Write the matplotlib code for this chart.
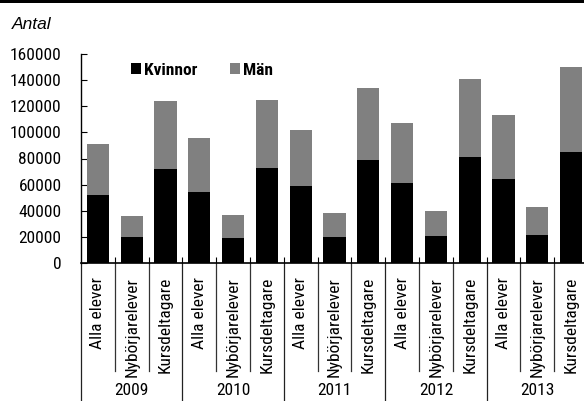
import matplotlib
matplotlib.use('Agg')
import matplotlib.pyplot as plt
from matplotlib import font_manager
from matplotlib.patches import Patch, Rectangle
import numpy as np

# data
years = ['2009', '2010', '2011', '2012', '2013']
groups = ['Alla elever', 'Nybörjarelever', 'Kursdeltagare']
kvinnor = [52000, 20000, 72000,
           54000, 19500, 72500,
           59000, 20000, 79000,
           61000, 20500, 81500,
           64000, 21500, 85000]
man = [39000, 16000, 52000,
       41500, 17500, 52500,
       43000, 18000, 55000,
       46000, 19000, 59500,
       49000, 21000, 65000]
yticks = [0, 20000, 40000, 60000, 80000, 100000, 120000, 140000, 160000]


def pick_font(candidates, default='DejaVu Sans'):
    names = {f.name for f in font_manager.fontManager.ttflist}
    for c in candidates:
        if c in names:
            return c
    return default


narrow = pick_font(['Liberation Sans Narrow', 'Roboto Condensed', 'Open Sans Condensed', 'Liberation Sans'])
plain = pick_font(['Liberation Sans', 'Arimo'])
fs = 12.5

W, H = 584, 401
fig = plt.figure(figsize=(W / 100, H / 100), dpi=100)

# axes in pixel terms: left 81, top 54, bottom 263, slot 33.8px
slot = 33.8
n = len(groups) * len(years)
ax = fig.add_axes([81 / W, (H - 263) / H, n * slot / W, (263 - 54) / H])

x = np.arange(n)
ax.bar(x, kvinnor, width=0.66, color='#000000', label='Kvinnor', zorder=2)
ax.bar(x, man, width=0.66, bottom=kvinnor, color='#808080', label='Män', zorder=2)

ax.set_xlim(-0.5, n - 0.5)
ax.set_ylim(0, 160000)

for s in ['top', 'right']:
    ax.spines[s].set_visible(False)
ax.spines['left'].set_linewidth(1)
ax.spines['bottom'].set_linewidth(1.2)

ax.set_yticks(yticks)
ax.set_yticklabels([str(v) for v in yticks], fontfamily=narrow, fontsize=fs)
ax.tick_params(axis='y', direction='in', length=4, width=0.8, pad=14, colors='black')

labels = groups * len(years)
ax.set_xticks(x)
ax.set_xticklabels(labels, rotation=90, fontfamily=narrow, fontsize=fs, va='top', ha='center')
ax.tick_params(axis='x', which='major', length=0, pad=10)
ax.set_xticks(np.arange(1, n) - 0.5, minor=True)
ax.tick_params(axis='x', which='minor', direction='in', length=4, width=0.8)

# separators below the axis
trans = ax.get_xaxis_transform()
for k in range(n + 1):
    pos = k - 0.5
    if k % 3 == 0:
        ax.plot([pos, pos], [0, -0.75], transform=trans, color='#222222', lw=0.9, clip_on=False)
    else:
        ax.plot([pos, pos], [0, -0.515], transform=trans, color='#333333', lw=0.9, clip_on=False)

for i, yr in enumerate(years):
    ax.text(i * 3 + 1, -0.612, yr, transform=trans, ha='center', va='center',
            fontfamily=narrow, fontsize=fs)

handles = [Patch(facecolor='#000000', label='Kvinnor'), Patch(facecolor='#808080', label='Män')]
ax.legend(handles=handles, loc='upper left', bbox_to_anchor=(122 / W, 1 - 54 / H),
          bbox_transform=fig.transFigure, ncol=2, frameon=False, borderpad=0,
          handlelength=0.6, handleheight=0.6, handletextpad=0.15, columnspacing=1.9,
          prop={'family': narrow, 'weight': 'bold', 'size': fs})

fig.text(12 / W, 1 - 29 / H, 'Antal', fontfamily=plain, style='italic', fontsize=12.5, va='baseline')

# black rule along the top edge
fig.patches.append(Rectangle((0, 1 - 2.5 / H), 1, 2.5 / H, transform=fig.transFigure,
                             facecolor='black', edgecolor='none'))

fig.savefig('out.png', dpi=100)
